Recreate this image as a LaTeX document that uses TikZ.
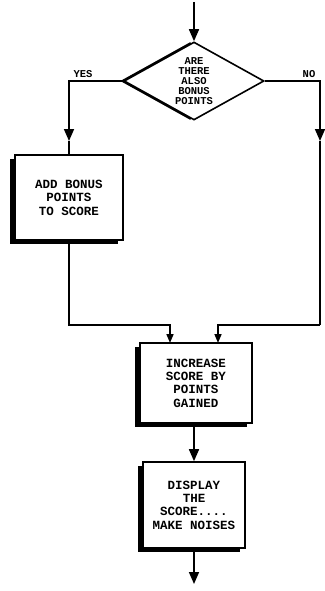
\documentclass[tikz,border=0pt]{standalone}
\usepackage{fontspec}
\setmonofont{Liberation Mono}
\usetikzlibrary{shapes.geometric,shadows,arrows.meta}
\begin{document}
\begin{tikzpicture}[x=1pt,y=-1pt,
  conn/.style={line width=1.6pt,draw=black},
  arr/.style={conn,-{Triangle[width=10pt,length=12pt]}},
  sarr/.style={conn,-{Triangle[width=7pt,length=9pt]}},
  boxtxt/.style={font=\ttfamily\bfseries\fontsize{12.5}{13.4}\selectfont,align=center},
  pbox/.style={draw=black,line width=1.6pt,fill=white,rectangle,inner sep=0pt,boxtxt,
    drop shadow={shadow xshift=-5pt,shadow yshift=-4pt,fill=black,opacity=1}},
  dia/.style={diamond,draw=black,line width=1.6pt,fill=white,inner sep=0pt,
    minimum width=140pt,minimum height=78pt,
    drop shadow={shadow xshift=-4pt,shadow yshift=0pt,fill=black,opacity=1}},
  lab/.style={font=\ttfamily\bfseries\fontsize{10.5}{11}\selectfont,inner sep=0pt}]
\useasboundingbox[fill=white] (0,0) rectangle (324,591);

\node[dia] (dec) at (194,81) {};
\node[font=\ttfamily\bfseries\fontsize{10.5}{10}\selectfont,align=center,inner sep=0pt] (dect) at (194,81) {ARE\\THERE\\ALSO\\BONUS\\POINTS};
\node[pbox,minimum width=108pt,minimum height=85pt] (add) at (69,197.5) {ADD BONUS\\POINTS\\TO SCORE};
\node[pbox,minimum width=112pt,minimum height=80pt] (inc) at (196,383) {INCREASE\\SCORE BY\\POINTS\\GAINED};
\node[pbox,minimum width=102pt,minimum height=86pt] (disp) at (194,505) {DISPLAY\\THE\\SCORE....\\MAKE NOISES};

\node[lab] (yes) at (83,74) {YES};
\node[lab] (no) at (309,74) {NO};

\coordinate (start) at (194,2);
\coordinate (ya) at (69,141);
\coordinate (na) at (320,141);
\coordinate (nb) at (320,325);
\coordinate (lb) at (69,325);
\coordinate (inL) at (170,343);
\coordinate (inR) at (218,343);
\coordinate (fin) at (194,584);

\draw[arr] (start) -- (dec.north);
\draw[arr] (dec.west) -| (ya);
\draw[conn] (ya) -- (add.north);
\draw[arr] (dec.east) -| (na);
\draw[conn] (na) -- (nb);
\draw[sarr] (add.south) -- (lb) -| (inL);
\draw[sarr] (nb) -| (inR);
\draw[arr] (disp.north |- inc.south) -- (disp.north);
\draw[arr] (disp.south) -- (fin);
\end{tikzpicture}
\end{document}
